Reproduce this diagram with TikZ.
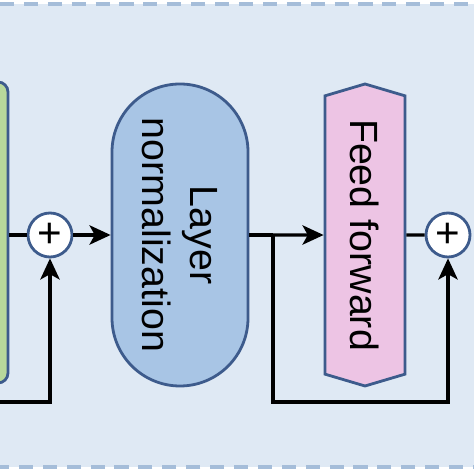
\documentclass[tikz,border=0pt]{standalone}
\usepackage{fontspec}
\setmainfont{Liberation Sans}
\usetikzlibrary{arrows.meta,shapes.symbols}
\definecolor{bgblue}{HTML}{DFE9F4}
\definecolor{dashblue}{HTML}{A5BDD9}
\definecolor{edgeblue}{HTML}{3D5B8C}
\definecolor{lnblue}{HTML}{A8C5E5}
\definecolor{attngreen}{HTML}{B8D89B}
\definecolor{ffpink}{HTML}{EDC4E4}
\begin{document}
\begin{tikzpicture}[line width=1.8pt,
  box/.style={draw=edgeblue, line width=1.6pt, inner sep=0pt},
  plus/.style={box, circle, fill=white, minimum size=0.88cm, font=\fontsize{24}{24}\selectfont},
  flow/.style={-{Stealth[length=12pt,width=11pt,inset=3pt]}}]
\useasboundingbox (0,0) rectangle (9.48,9.48);
\draw[dashblue, fill=bgblue, line width=1.8pt, dash pattern=on 8pt off 5.6pt] (-0.3,0.14) rectangle (9.8,9.40);
\node[box, fill=attngreen, minimum width=1.4cm, minimum height=6.02cm, rounded corners=0.2cm] (P_attn) at (-0.54,4.83) {};
\node[plus] (P_add_1) at (1.0,4.78) {+};
\node[box, fill=lnblue, rotate=-90, minimum width=6.04cm, minimum height=2.72cm, rounded corners=1.36cm, align=center, font=\fontsize{22.4}{27}\selectfont] (P_ln) at (3.6,4.78) {Layer\\normalization};
\node[box, fill=ffpink, signal, signal to=east and west, signal pointer angle=147, rotate=-90, minimum width=6.04cm, minimum height=1.6cm, font=\fontsize{22.4}{27}\selectfont] (P_ff) at (7.3,4.78) {Feed forward};
\node[plus] (P_add_2) at (8.96,4.78) {+};
\coordinate (P_in) at (-0.3,1.44);
\coordinate (P_br) at (5.46,4.78);
\coordinate (P_br_low) at (5.46,1.44);
\draw (P_attn.east |- P_add_1) -- (P_add_1);
\draw[flow] (P_in) -| (P_add_1);
\draw[flow] (P_add_1) -- (P_ln);
\draw (P_ln) -- (P_br);
\draw[flow] (P_br) -- (P_ff);
\draw[flow] (P_br) -- (P_br_low) -| (P_add_2);
\draw (P_ff) -- (P_add_2);
\end{tikzpicture}
\end{document}
